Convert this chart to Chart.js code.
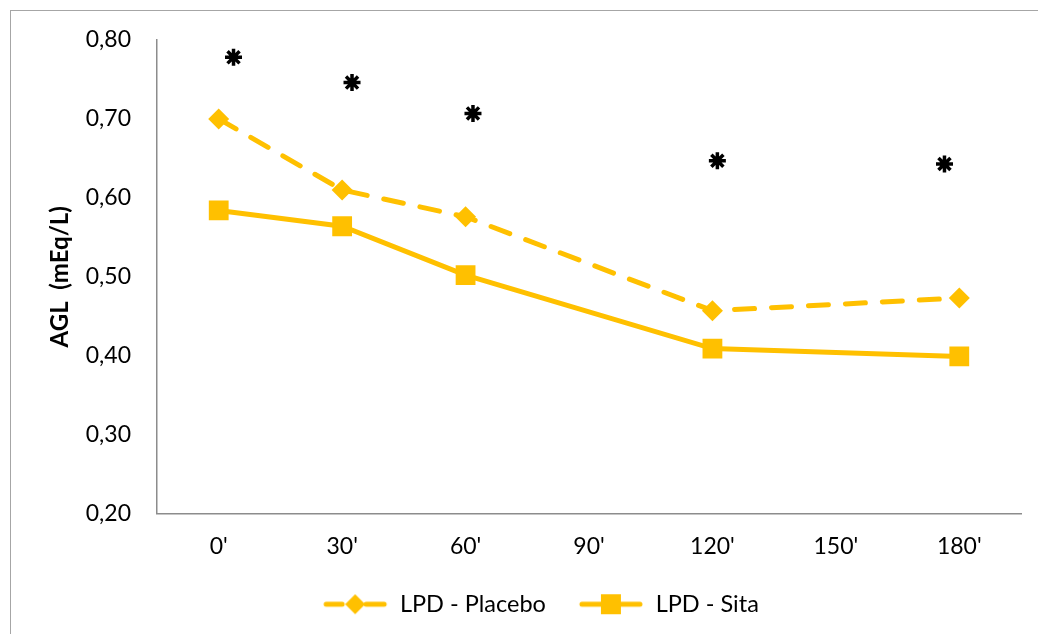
<!DOCTYPE html>
<html>
<head>
<meta charset="utf-8">
<script src="https://cdn.jsdelivr.net/npm/chart.js@4"></script>
<style>
  html, body { margin: 0; padding: 0; background: #fff; overflow: hidden; }
  #wrap { position: relative; width: 1038px; height: 634px; }
  #frame { position: absolute; left: 10px; top: 10px; width: 1100px; height: 700px; border: 1.5px solid #a6a6a6; }
  canvas { position: absolute; left: 0; top: 0; }
</style>
</head>
<body>
<div id="wrap">
  <div id="frame"></div>
  <canvas id="aglChart" width="1038" height="634"></canvas>
</div>
<script>
// ---- data ----
const timeLabels = ["0'", "30'", "60'", "90'", "120'", "150'", "180'"];
const placeboValues = [0.700, 0.610, 0.576, null, 0.457, null, 0.473];
const sitaValues    = [0.584, 0.564, 0.502, null, 0.409, null, 0.399];
// significance asterisks (x in category units, slightly shifted like the original)
const starX = [0.12, 1.08, 2.06, 4.04, 5.88];
const starY = [0.778, 0.746, 0.707, 0.647, 0.643];

const GOLD = "#FFC000";
const AXIS_GREY = "#8c8c8c";
const FONT = "Lato, 'Liberation Sans', sans-serif";

// small legend swatch: line + marker, like the office-style legend
function makeSwatch(dashed, shape) {
    const c = document.createElement("canvas");
    c.width = 66; c.height = 24;
    const g = c.getContext("2d");
    g.strokeStyle = GOLD; g.fillStyle = GOLD;
    g.lineWidth = 5; g.lineCap = "round";
    g.beginPath();
    if (dashed) {
        g.moveTo(4, 12); g.lineTo(20, 12);
        g.moveTo(44, 12); g.lineTo(62, 12);
    } else {
        g.moveTo(4, 12); g.lineTo(62, 12);
    }
    g.stroke();
    g.beginPath();
    if (shape === "diamond") {
        g.moveTo(33, 2); g.lineTo(43, 12); g.lineTo(33, 22); g.lineTo(23, 12);
        g.closePath();
    } else {
        g.rect(23, 2, 20, 20);
    }
    g.fill();
    return c;
}
const swatches = [makeSwatch(true, "diamond"), makeSwatch(false, "square")];

const canvas = document.getElementById("aglChart");
new Chart(canvas, {
    type: "line",
    data: {
        labels: timeLabels,
        datasets: [{
            label: "LPD - Placebo",
            data: placeboValues,
            spanGaps: true,
            borderColor: GOLD,
            backgroundColor: GOLD,
            borderWidth: 5,
            borderDash: [20, 17],
            borderCapStyle: "round",
            pointStyle: "rectRot",
            pointRadius: 10.5,
            pointBorderWidth: 0,
            tension: 0
        }, {
            label: "LPD - Sita",
            data: sitaValues,
            spanGaps: true,
            borderColor: GOLD,
            backgroundColor: GOLD,
            borderWidth: 5,
            pointStyle: "rect",
            pointRadius: 14,
            pointBorderWidth: 0,
            tension: 0
        }, {
            label: "stars",
            data: starX.map((x, i) => ({ x: x, y: starY[i] })),
            xAxisID: "xs",
            showLine: false,
            pointStyle: "star",
            pointRadius: 8.5,
            pointBorderWidth: 3.5,
            borderColor: "#000",
            backgroundColor: "#000"
        }]
    },
    options: {
        responsive: false,
        animation: false,
        // left padding pushes the centred legend right, like the original
        layout: { padding: { top: 40, right: 17, left: 60, bottom: 8 } },
        plugins: {
            tooltip: { enabled: false },
            legend: {
                position: "bottom",
                labels: {
                    usePointStyle: true,
                    pointStyleWidth: 66,
                    color: "#000",
                    font: { family: FONT, size: 23.5 },
                    padding: 32,
                    generateLabels: chart => chart.data.datasets.slice(0, 2).map((ds, i) => ({
                        text: ds.label,
                        pointStyle: swatches[i],
                        fillStyle: GOLD,
                        strokeStyle: GOLD,
                        lineWidth: 0,
                        fontColor: "#000",
                        hidden: false,
                        datasetIndex: i
                    }))
                }
            }
        },
        scales: {
            x: {
                type: "category",
                offset: true,
                grid: { display: false },
                border: { color: AXIS_GREY, width: 1.5 },
                ticks: { color: "#000", font: { family: FONT, size: 23 }, padding: 11 },
                afterFit: scale => { scale.height = 47; }
            },
            xs: {
                type: "linear",
                min: -0.5,
                max: 6.5,
                display: false
            },
            y: {
                min: 0.2,
                max: 0.8,
                grid: { display: false },
                border: { color: AXIS_GREY, width: 1.5 },
                ticks: {
                    stepSize: 0.1,
                    color: "#000",
                    padding: 18,
                    font: { family: FONT, size: 23 },
                    callback: v => v.toFixed(2).replace(".", ",")
                },
                title: {
                    display: true,
                    text: "AGL  (mEq/L)",
                    color: "#000",
                    font: { family: FONT, size: 24, weight: "bold" },
                    padding: { top: -14, bottom: 0 }
                },
                afterFit: scale => { scale.width = 97; }
            }
        }
    }
});
</script>
</body>
</html>
